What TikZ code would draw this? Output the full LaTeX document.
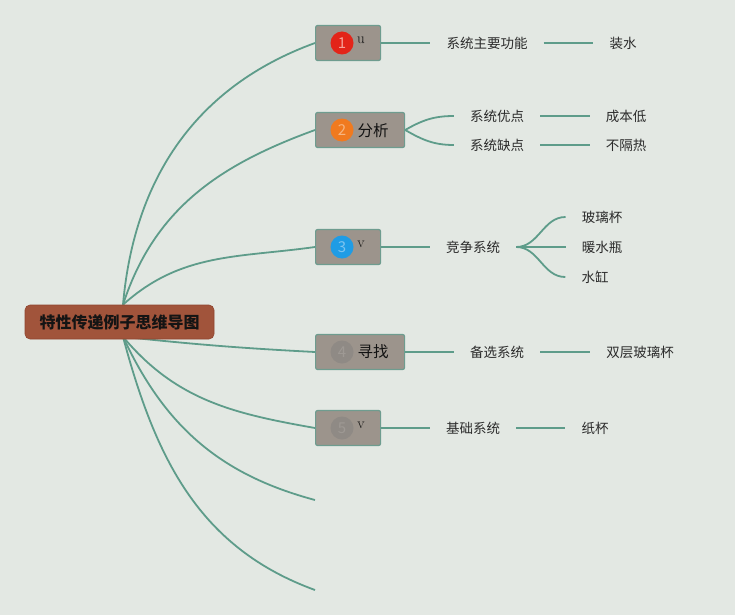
\documentclass[tikz,border=0pt]{standalone}
\usepackage{fontspec}
\newfontfamily\cjk{Noto Sans CJK SC}
\usetikzlibrary{backgrounds}

\begin{document}
\begin{tikzpicture}[x=1pt,y=-1pt,
  rootbox/.style={fill=mycolorA1533A,draw=mycolor8E4630,line width=0.6pt,rounded corners=5pt,minimum width=189pt,minimum height=34pt,inner sep=0pt,text=mycolor141414,font=\cjk\bfseries\fontsize{16}{19}\selectfont},
  topicbox/.style={fill=mycolor9B958D,draw=mycolor6E9C8F,line width=1.2pt,rounded corners=2pt,minimum height=35pt,inner sep=0pt,anchor=west},
  badge/.style={circle,minimum size=23pt,inner sep=0pt,font=\cjk\fontsize{15}{18}\selectfont},
  topictext/.style={inner sep=0pt,text=mycolor111111,font=\cjk\fontsize{15.5}{18}\selectfont},
  latintext/.style={inner sep=0pt,text=mycolor111111,font=\fontsize{15}{18}\selectfont},
  leaf/.style={inner xsep=16pt,inner ysep=2pt,text=mycolor2B2B2B,font=\cjk\fontsize{13.5}{16}\selectfont},
  branch/.style={draw=mycolor5F9B8A,line width=1.8pt},
]
\definecolor{mycolorE4E7E4}{rgb}{0.89,0.91,0.89}
\definecolor{mycolorA1533A}{rgb}{0.63,0.33,0.23}
\definecolor{mycolor8E4630}{rgb}{0.56,0.27,0.19}
\definecolor{mycolor9B958D}{rgb}{0.61,0.58,0.55}
\definecolor{mycolor6E9C8F}{rgb}{0.43,0.61,0.56}
\definecolor{mycolor5F9B8A}{rgb}{0.37,0.61,0.54}
\definecolor{mycolor141414}{rgb}{0.08,0.08,0.08}
\definecolor{mycolor111111}{rgb}{0.07,0.07,0.07}
\definecolor{mycolor2B2B2B}{rgb}{0.17,0.17,0.17}
\definecolor{mycolorE2231A}{rgb}{0.89,0.14,0.1}
\definecolor{mycolorF5A09A}{rgb}{0.96,0.63,0.6}
\definecolor{mycolorF07B1E}{rgb}{0.94,0.48,0.12}
\definecolor{mycolorF8B57F}{rgb}{0.97,0.71,0.5}
\definecolor{mycolor1E9BE6}{rgb}{0.12,0.61,0.9}
\definecolor{mycolor7CC5F0}{rgb}{0.49,0.77,0.94}
\definecolor{mycolor8E8A85}{rgb}{0.56,0.54,0.52}
\definecolor{mycolor9E9A95}{rgb}{0.62,0.6,0.58}
\useasboundingbox (0,0) rectangle (735,615);
\begin{scope}[on background layer]
\fill [mycolorE4E7E4] (0,0) rectangle (735,615);
\end{scope}
% root
\path (119.5,322) node (root) [rootbox] {特性传递例子思维导图};
% topics
\begin{scope}
\path (315,43) node (t1) [topicbox,minimum width=65pt] {};
\path (342,43) node (t1n) [badge,fill=mycolorE2231A,text=mycolorF5A09A] {1};
\path (361,40) node (t1l) [latintext] {u};
\path (315,130) node (t2) [topicbox,minimum width=89pt] {};
\path (342,130) node (t2n) [badge,fill=mycolorF07B1E,text=mycolorF8B57F] {2};
\path (373,131) node (t2l) [topictext] {分析};
\path (315,247) node (t3) [topicbox,minimum width=65pt] {};
\path (342,247) node (t3n) [badge,fill=mycolor1E9BE6,text=mycolor7CC5F0] {3};
\path (361,244) node (t3l) [latintext] {v};
\path (315,352) node (t4) [topicbox,minimum width=89pt] {};
\path (342,352) node (t4n) [badge,fill=mycolor8E8A85,text=mycolor9E9A95] {4};
\path (373,352) node (t4l) [topictext] {寻找};
\path (315,428) node (t5) [topicbox,minimum width=65pt] {};
\path (342,428) node (t5n) [badge,fill=mycolor8E8A85,text=mycolor9E9A95] {5};
\path (361,425) node (t5l) [latintext] {v};
\coordinate (t6) at (315,500);
\coordinate (t7) at (315,590);
\end{scope}
% subtopics
\begin{scope}
\path (487,43) node (s1) [leaf] {系统主要功能};
\path (623,43) node (s1a) [leaf] {装水};
\path (497,116) node (s2a) [leaf] {系统优点};
\path (497,145) node (s2b) [leaf] {系统缺点};
\path (626,116) node (s2aa) [leaf] {成本低};
\path (626,145) node (s2ba) [leaf] {不隔热};
\path (473,247) node (s3) [leaf] {竞争系统};
\path (602,217) node (s3a) [leaf] {玻璃杯};
\path (602,247) node (s3b) [leaf] {暖水瓶};
\path (595,277) node (s3c) [leaf] {水缸};
\path (497,352) node (s4) [leaf] {备选系统};
\path (640,352) node (s4a) [leaf] {双层玻璃杯};
\path (473,428) node (s5) [leaf] {基础系统};
\path (595,428) node (s5a) [leaf] {纸杯};
\end{scope}
\begin{scope}[on background layer]
\draw [branch] ([xshift=3.5pt]root.north) to[out=85,in=200] (t1.west);
\draw [branch] ([xshift=3.5pt]root.north) to[out=72,in=200] (t2.west);
\draw [branch] ([xshift=3.5pt]root.north) to[out=42,in=188] (t3.west);
\draw [branch] ([xshift=3.5pt,yshift=2.5pt]root.south) to[out=-6,in=177] (t4.west);
\draw [branch] ([xshift=3.5pt,yshift=2.5pt]root.south) to[out=-50,in=170] (t5.west);
\draw [branch] ([xshift=3.5pt,yshift=2.5pt]root.south) to[out=-65,in=165] (t6);
\draw [branch] ([xshift=3.5pt,yshift=2.5pt]root.south) to[out=-75,in=160] (t7);
\end{scope}
\begin{scope}
\draw [branch] (t1.east) -- (s1.west);
\draw [branch] (s1.east) -- (s1a.west);
\draw [branch] (t2.east) to[out=30,in=180] (s2a.west);
\draw [branch] (t2.east) to[out=-30,in=180] (s2b.west);
\draw [branch] (s2a.east) -- (s2aa.west);
\draw [branch] (s2b.east) -- (s2ba.west);
\draw [branch] (t3.east) -- (s3.west);
\draw [branch] (s3.east) to[out=0,in=180] (s3a.west);
\draw [branch] (s3.east) -- (s3b.west);
\draw [branch] (s3.east) to[out=0,in=180] (s3c.west);
\draw [branch] (t4.east) -- (s4.west);
\draw [branch] (s4.east) -- (s4a.west);
\draw [branch] (t5.east) -- (s5.west);
\draw [branch] (s5.east) -- (s5a.west);
\end{scope}
\end{tikzpicture}
\end{document}
